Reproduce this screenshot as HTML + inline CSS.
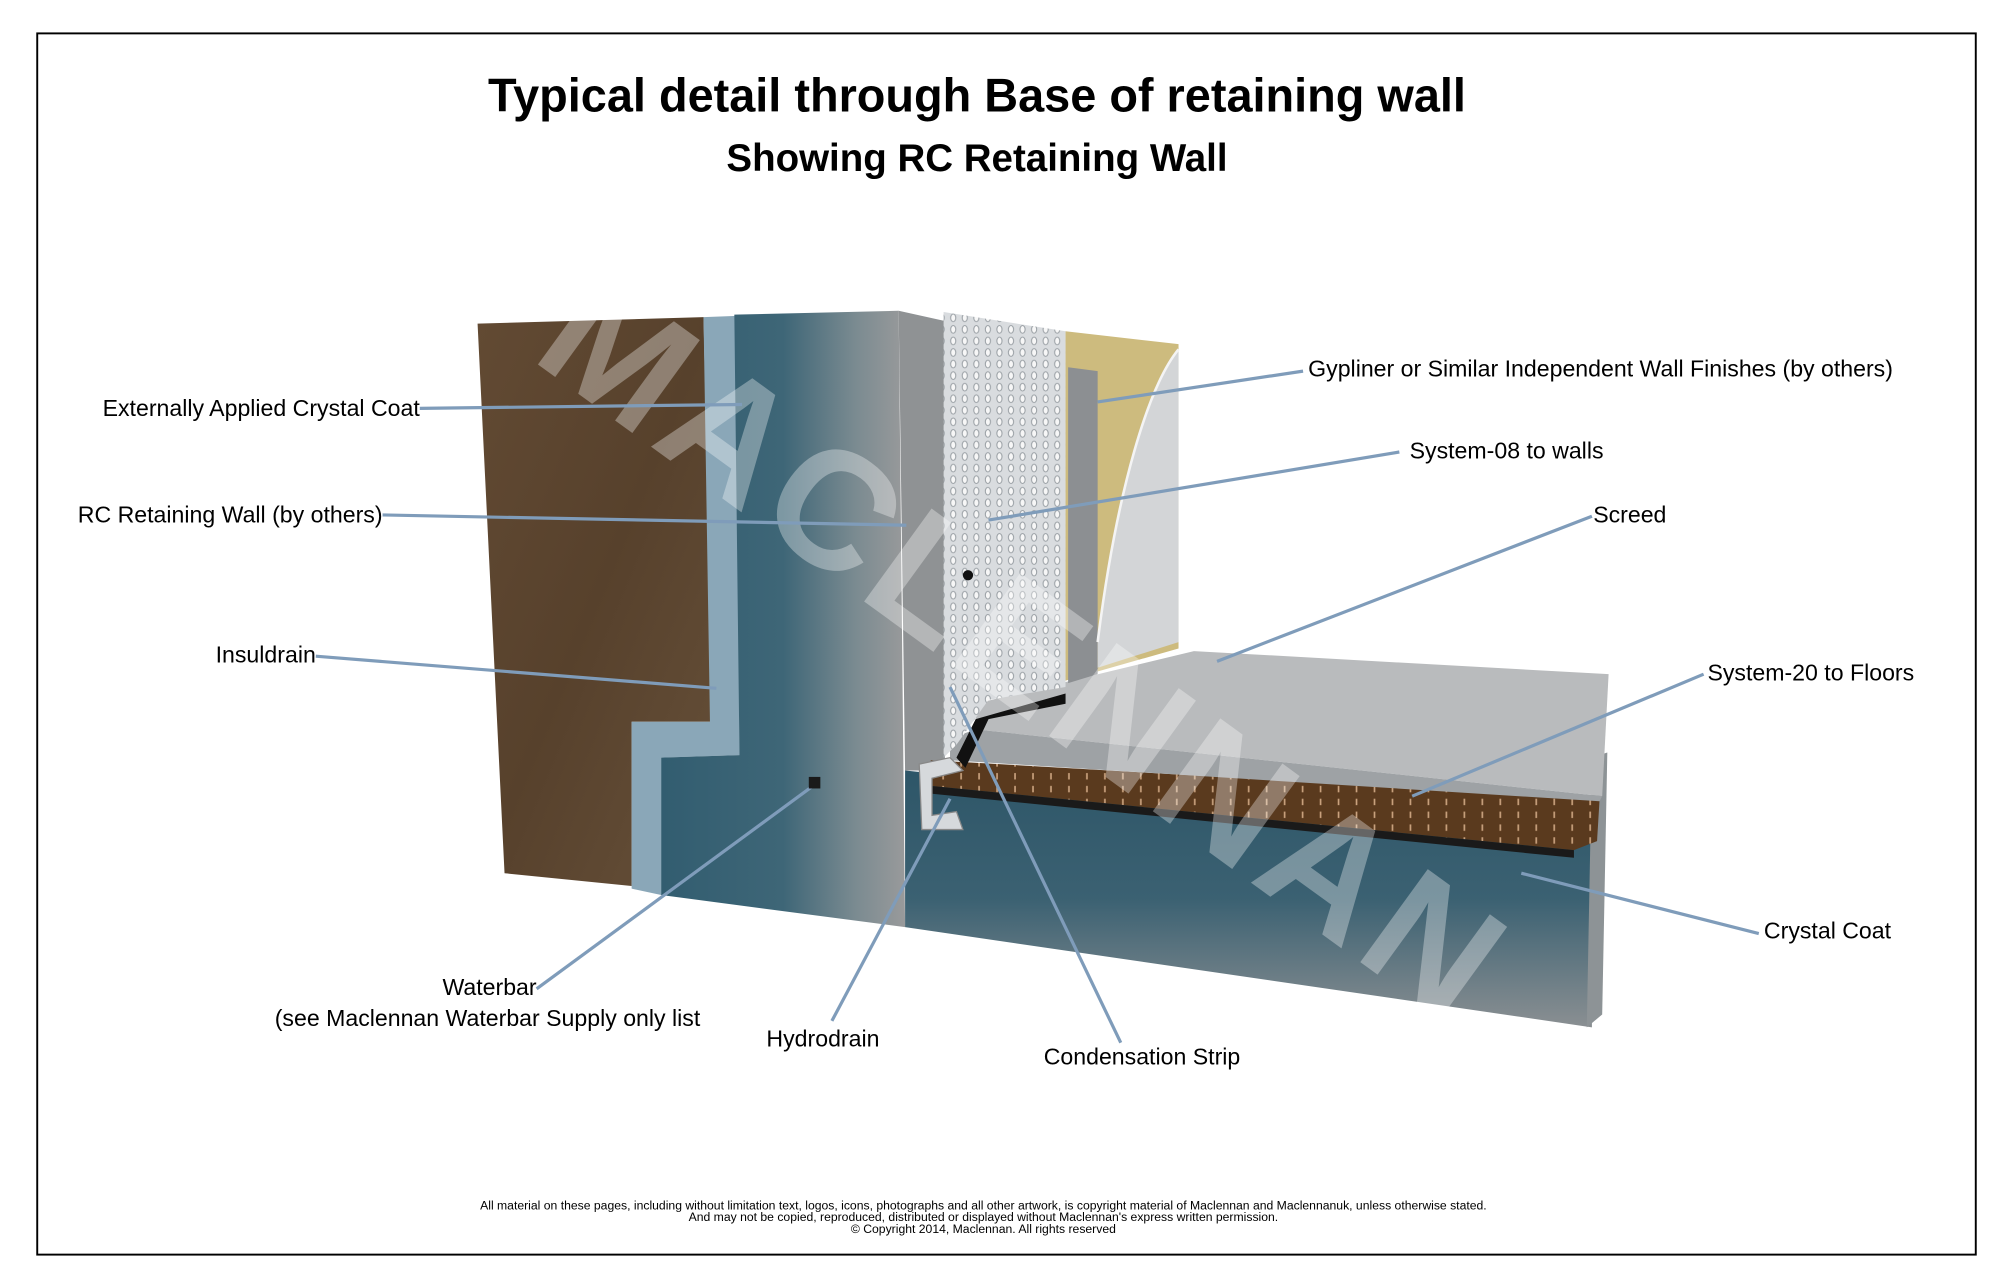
<!DOCTYPE html>
<html><head><meta charset="utf-8"><style>
html,body{margin:0;padding:0;background:#fff;}
svg{display:block;}
text{font-family:"Liberation Sans",Arial,sans-serif;}
</style></head><body>
<svg width="2013" height="1288" viewBox="0 0 1568 1003" preserveAspectRatio="none" xmlns="http://www.w3.org/2000/svg">
<defs>
<linearGradient id="wallg" x1="0" y1="0" x2="1" y2="0">
<stop offset="0" stop-color="#325d70"/><stop offset="0.5" stop-color="#3e6677"/><stop offset="0.8" stop-color="#7b8b91"/><stop offset="1" stop-color="#999a9b"/>
</linearGradient>
<linearGradient id="slabg" x1="0" y1="0" x2="0" y2="1">
<stop offset="0" stop-color="#2e5668"/><stop offset="0.5" stop-color="#3b6172"/><stop offset="1" stop-color="#8a8f92"/>
</linearGradient>
<linearGradient id="soilg" x1="0" y1="0" x2="1" y2="1">
<stop offset="0" stop-color="#624a33"/><stop offset="0.5" stop-color="#57412c"/><stop offset="1" stop-color="#665039"/>
</linearGradient>
<pattern id="dimp" width="9" height="9" patternUnits="userSpaceOnUse">
<rect width="9" height="9" fill="#d9dcdf"/><ellipse cx="4.5" cy="4.5" rx="2" ry="3" fill="#f7f7f7" stroke="#9aa0a5" stroke-width="0.8"/>
</pattern>
<pattern id="brownp" width="14" height="10" patternUnits="userSpaceOnUse">
<rect width="14" height="10" fill="#5a3a1e"/><rect x="6" y="2" width="1.3" height="5" fill="#caa27e"/>
</pattern>
</defs>
<rect x="29" y="26" width="1510" height="951" fill="#fff" stroke="#000" stroke-width="1.5"/>
<text x="761" y="87" text-anchor="middle" font-size="36.5" font-weight="bold">Typical detail through Base of retaining wall</text>
<text x="761" y="133" text-anchor="middle" font-size="30" font-weight="bold">Showing RC Retaining Wall</text>

<polygon points="372,252 548,247 555,562 492,562 492,690 393,680" fill="url(#soilg)"/>
<polygon points="548,247 574,246 576,588 515,590 515,697 492,692 492,562 553,562" fill="#8aa7b8"/>
<polygon points="572,245 700,242 705,722 515,697 515,590 576,588" fill="url(#wallg)"/>
<polygon points="700,242 736,250 736,600 705,600" fill="#8f9294"/>
<polygon points="705,600 1240,655 1240,800 705,722" fill="url(#slabg)"/>
<polygon points="1240,590 1252,586 1248,790 1236,800" fill="#8d9396"/>
<polygon points="725,592 1246,622 1244,655 1226,662 725,612" fill="url(#brownp)"/>
<polygon points="725,612 1226,662 1226,668 725,618" fill="#1a1a1a"/>
<polygon points="760,548 930,507 1253,525 1248,620 760,568" fill="#b9bbbd"/>
<polygon points="760,568 1248,620 1246,624 740,592 740,575" fill="#9ea2a5"/>
<polygon points="735,243 830,258 830,535 770,545 745,580 735,590" fill="url(#dimp)"/>
<path d="M745,590 L760,560 L830,540 L830,548 L770,560 L752,598 Z" fill="#111"/>
<circle cx="754" cy="448" r="4" fill="#111"/>
<path d="M716,595 L740,590 L750,600 L726,606 L726,635 L745,632 L750,646 L718,646 Z" fill="#d6d9dc" stroke="#888" stroke-width="1"/>
<polygon points="830,258 918,268 918,505 830,530" fill="#cdbb7e"/>
<polygon points="832,286 855,289 855,525 832,532" fill="#8c8f92"/>
<path d="M918,272 C895,300 870,380 855,500 L855,520 L918,500 Z" fill="#d3d5d7"/>
<path d="M918,272 C895,300 870,380 855,500" fill="none" stroke="#f4f4f4" stroke-width="2"/>

<text x="795" y="548" text-anchor="middle" font-size="130" font-weight="bold" fill="#ffffff" fill-opacity="0.33" transform="rotate(36 795 510)" letter-spacing="6">MACLENNAN</text>

<g stroke="#7f9cba" stroke-width="2.5" fill="none">
<line x1="327" y1="318" x2="578" y2="315"/>
<line x1="298" y1="401" x2="706" y2="409"/>
<line x1="246" y1="511" x2="558" y2="536"/>
<line x1="418" y1="770" x2="636" y2="610"/>
<line x1="648" y1="795" x2="740" y2="622"/>
<line x1="873" y1="812" x2="740" y2="535"/>
<line x1="1370" y1="727" x2="1185" y2="680"/>
<line x1="1327" y1="525" x2="1100" y2="620"/>
<line x1="1240" y1="402" x2="948" y2="515"/>
<line x1="1090" y1="352" x2="770" y2="405"/>
<line x1="1015" y1="289" x2="855" y2="313"/>
</g>
<rect x="630" y="605" width="9" height="9" fill="#1a1a1a"/>

<g font-size="18" fill="#000">
<text x="327" y="324" text-anchor="end">Externally Applied Crystal Coat</text>
<text x="298" y="407" text-anchor="end">RC Retaining Wall (by others)</text>
<text x="246" y="516" text-anchor="end">Insuldrain</text>
<text x="418" y="775" text-anchor="end">Waterbar</text>
<text x="214" y="799">(see Maclennan Waterbar Supply only list</text>
<text x="597" y="815">Hydrodrain</text>
<text x="813" y="829">Condensation Strip</text>
<text x="1374" y="731">Crystal Coat</text>
<text x="1330" y="530">System-20 to Floors</text>
<text x="1241" y="407">Screed</text>
<text x="1098" y="357">System-08 to walls</text>
<text x="1019" y="293">Gypliner or Similar Independent Wall Finishes (by others)</text>
</g>
<g font-size="9.5" text-anchor="middle" fill="#000">
<text x="766" y="942">All material on these pages, including without limitation text, logos, icons, photographs and all other artwork, is copyright material of Maclennan and Maclennanuk, unless otherwise stated.</text>
<text x="766" y="951">And may not be copied, reproduced, distributed or displayed without Maclennan's express written permission.</text>
<text x="766" y="960">© Copyright 2014, Maclennan.  All rights reserved</text>
</g>
</svg>
</body></html>
